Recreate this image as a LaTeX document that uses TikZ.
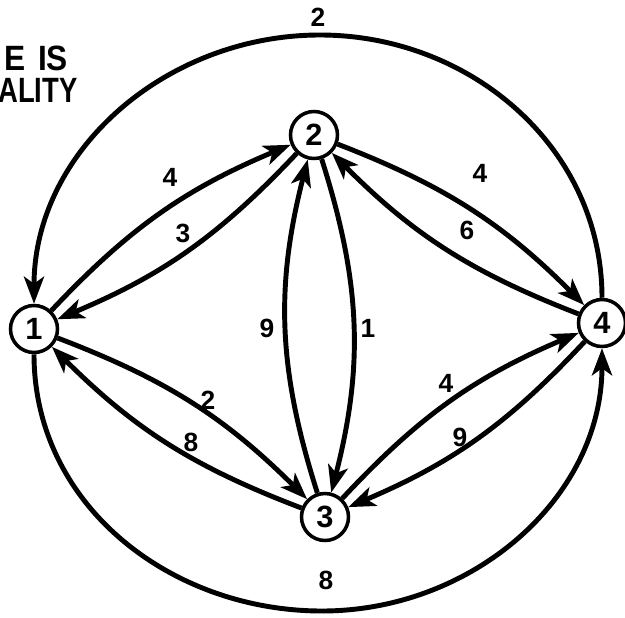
\documentclass[tikz,border=0pt]{standalone}
\usepackage{fontspec}
\usepackage{graphicx}
\setmainfont{Liberation Sans}
\usetikzlibrary{arrows.meta}

\begin{document}
\begin{tikzpicture}[
  vertex/.style={circle, draw, line width=2pt, minimum size=0.94cm, inner sep=0pt,
                 font=\fontsize{17.5}{19}\selectfont\bfseries},
  arrow/.style={-{Stealth[length=5.4mm, width=4mm, inset=1.4mm]}, line width=2.8pt},
  wlbl/.style={font=\fontsize{15}{17}\selectfont\bfseries, inner sep=0pt},
  cornertxt/.style={font=\fontsize{20}{22}\selectfont\bfseries, anchor=west, inner sep=0pt}
]
  \useasboundingbox (0,0) rectangle (12.5,12.34);

  % cut-off caption, top left
  \node[cornertxt] (capA) at (0.08,11.18) {\scalebox{0.9}[1]{E\hspace{0.4em}IS}};
  \node[cornertxt] (capB) at (-0.04,10.54) {\scalebox{0.78}[1]{ALITY}};

  % vertices
  \node[vertex] (n1) at (0.68,5.76) {1};
  \node[vertex] (n2) at (6.28,9.64) {2};
  \node[vertex] (n3) at (6.50,2.00) {3};
  \node[vertex] (n4) at (12.04,5.88) {4};
  \coordinate (top) at (6.40,11.64);
  \coordinate (bot) at (6.44,0.12);

  % inner arcs
  \draw[arrow] (n1) to[bend left=12] (n2);
  \draw[arrow] (n2) to[bend left=12] (n1);
  \draw[arrow] (n2) to[bend left=12] (n4);
  \draw[arrow] (n4) to[bend left=12] (n2);
  \draw[arrow] (n2) to[bend left=16] (n3);
  \draw[arrow] (n3) to[bend left=16] (n2);
  \draw[arrow] (n1) to[bend left=12] (n3);
  \draw[arrow] (n3) to[bend left=12] (n1);
  \draw[arrow] (n3) to[bend left=12] (n4);
  \draw[arrow] (n4) to[bend left=12] (n3);

  % outer ring
  \draw[arrow] (n4) to[out=90,in=0] (top) to[out=180,in=90] (n1);
  \draw[arrow] (n1) to[out=-90,in=180] (bot) to[out=0,in=-90] (n4);

  % weights
  \node[wlbl] (w41) at (6.36,12.00) {2};
  \node[wlbl] (w14) at (6.52,0.74) {8};
  \node[wlbl] (w12) at (3.40,8.80) {4};
  \node[wlbl] (w21) at (3.66,7.68) {3};
  \node[wlbl] (w24) at (9.60,8.88) {4};
  \node[wlbl] (w42) at (9.34,7.74) {6};
  \node[wlbl] (w32) at (5.34,5.78) {9};
  \node[wlbl] (w23) at (7.36,5.78) {1};
  \node[wlbl] (w13) at (4.16,4.34) {2};
  \node[wlbl] (w31) at (3.82,3.50) {8};
  \node[wlbl] (w34) at (8.92,4.68) {4};
  \node[wlbl] (w43) at (9.20,3.60) {9};
\end{tikzpicture}
\end{document}
